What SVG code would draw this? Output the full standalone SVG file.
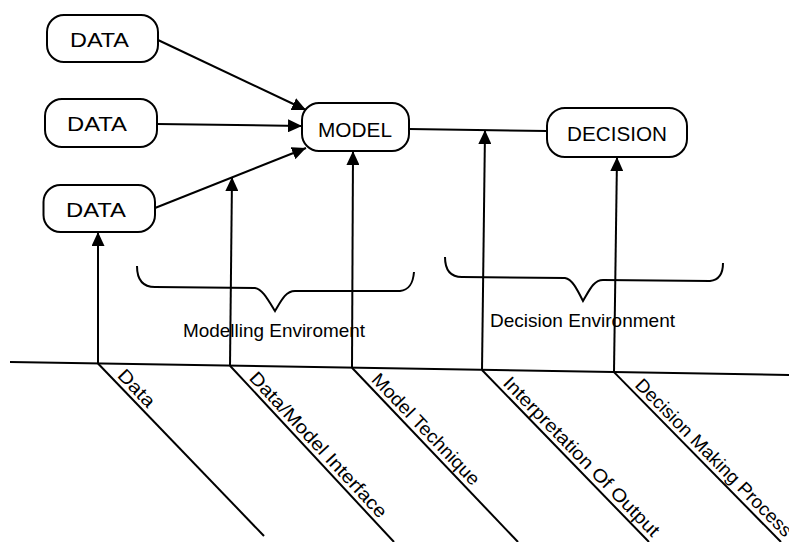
<svg xmlns="http://www.w3.org/2000/svg" width="789" height="542" viewBox="0 0 789 542">
  <defs>
    <marker id="head" markerUnits="userSpaceOnUse" markerWidth="15" markerHeight="13" refX="14" refY="6.5" orient="auto">
      <path d="M0,0 L14,6.5 L0,13 Z" fill="#000"/>
    </marker>
    <style>
      rect.node { fill: #fff; stroke: #000; stroke-width: 2; }
      text { font-family: "Liberation Sans", Arial, sans-serif; fill: #000; }
      .nlabel { font-size: 20.5px; }
      .clabel { font-size: 19px; }
      .dlabel { font-size: 18.5px; }
      .wire { fill: none; stroke: #000; stroke-width: 2; }
      .arrow { fill: none; stroke: #000; stroke-width: 2; marker-end: url(#head); }
    </style>
  </defs>
  <rect width="789" height="542" fill="#fff"/>

  <!-- connectors -->
  <g id="connectors">
    <line class="arrow" x1="158" y1="40" x2="306" y2="110"/>
    <line class="arrow" x1="157" y1="124" x2="302" y2="126"/>
    <line class="arrow" x1="155" y1="208" x2="306" y2="148"/>
    <line class="wire" x1="409" y1="129" x2="547" y2="131"/>
    <line class="arrow" x1="98" y1="363.5" x2="98" y2="232"/>
    <line class="arrow" x1="230" y1="365.7" x2="232" y2="177"/>
    <line class="arrow" x1="352" y1="367.7" x2="353" y2="151"/>
    <line class="arrow" x1="482" y1="370" x2="485" y2="130"/>
    <line class="arrow" x1="614" y1="372.1" x2="617" y2="157"/>
    <!-- ground line and diagonal spokes -->
    <line class="wire" x1="10" y1="362" x2="789" y2="375"/>
    <line class="wire" x1="98" y1="363.5" x2="264" y2="536"/>
    <line class="wire" x1="230" y1="365.7" x2="394" y2="542"/>
    <line class="wire" x1="352" y1="367.7" x2="518" y2="542"/>
    <line class="wire" x1="482" y1="370" x2="649" y2="542"/>
    <line class="wire" x1="614" y1="372.1" x2="781" y2="542"/>
    <!-- braces -->
    <path class="wire" d="M137,266 C137,279 142,287 155,287 L255,288 C262,289 267,298 275,311 C282,299 286,291 295,291 L400,291 C409,290 413,284 414,272"/>
    <path class="wire" d="M445,257 C445,270 450,277 462,277 L565,278 C572,279 577,289 583,301 C590,289 594,280 603,280 L710,281 C719,280 723,273 723,263"/>
  </g>

  <!-- nodes -->
  <g id="data1">
    <rect class="node" x="47" y="15" width="111" height="47" rx="17"/>
    <text class="nlabel" x="70" y="46.5" textLength="59" lengthAdjust="spacingAndGlyphs">DATA</text>
  </g>
  <g id="data2">
    <rect class="node" x="45" y="99" width="112" height="48" rx="17"/>
    <text class="nlabel" x="67" y="131" textLength="60" lengthAdjust="spacingAndGlyphs">DATA</text>
  </g>
  <g id="data3">
    <rect class="node" x="43.5" y="185" width="111.5" height="47" rx="17"/>
    <text class="nlabel" x="66" y="216.5" textLength="60" lengthAdjust="spacingAndGlyphs">DATA</text>
  </g>
  <g id="model">
    <rect class="node" x="302" y="103" width="107" height="48" rx="17"/>
    <text class="nlabel" x="318" y="136.5" textLength="74" lengthAdjust="spacingAndGlyphs">MODEL</text>
  </g>
  <g id="decision">
    <rect class="node" x="547" y="108" width="140" height="49" rx="18"/>
    <text class="nlabel" x="567" y="141" textLength="100" lengthAdjust="spacingAndGlyphs">DECISION</text>
  </g>

  <!-- environment captions -->
  <text class="clabel" x="183" y="336.5" textLength="182" lengthAdjust="spacingAndGlyphs">Modelling Enviroment</text>
  <text class="clabel" x="490" y="327" textLength="185" lengthAdjust="spacingAndGlyphs">Decision Environment</text>

  <!-- spoke labels -->
  <text class="dlabel" transform="translate(98,363.5) rotate(46.2)" x="22" y="-4.5" textLength="45" lengthAdjust="spacingAndGlyphs">Data</text>
  <text class="dlabel" transform="translate(230,365.7) rotate(47)" x="22" y="-4.5" textLength="192" lengthAdjust="spacingAndGlyphs">Data/Model Interface</text>
  <text class="dlabel" transform="translate(352,367.7) rotate(46.2)" x="22" y="-4.5" textLength="147" lengthAdjust="spacingAndGlyphs">Model Technique</text>
  <text class="dlabel" transform="translate(482,370) rotate(45.7)" x="24" y="-4.5" textLength="215" lengthAdjust="spacingAndGlyphs">Interpretation Of Output</text>
  <text class="dlabel" transform="translate(614,372.1) rotate(45.3)" x="24" y="-4.5" textLength="214" lengthAdjust="spacingAndGlyphs">Decision Making Process</text>
</svg>
